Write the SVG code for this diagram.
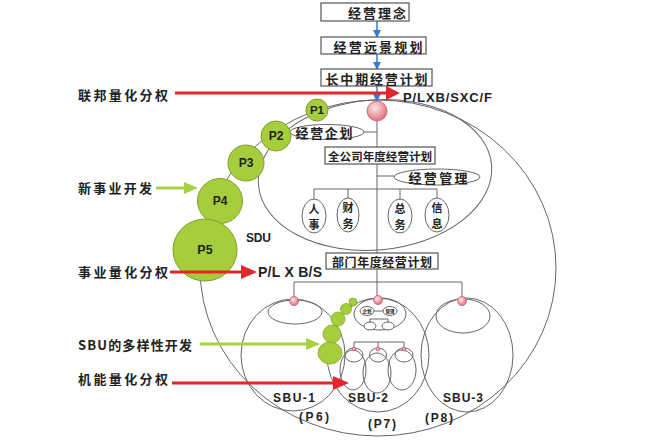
<svg xmlns="http://www.w3.org/2000/svg" width="656" height="440" viewBox="0 0 656 440">
<defs>
<radialGradient id="pink" cx="0.4" cy="0.35" r="0.65">
<stop offset="0" stop-color="#fde6ea"/>
<stop offset="1" stop-color="#e2707e"/>
</radialGradient>
<marker id="blueHead" markerWidth="8" markerHeight="8" refX="7" refY="4" orient="auto" markerUnits="userSpaceOnUse">
<path d="M0,0 L8,4 L0,8 Z" fill="#3a7cc4"/>
</marker>
</defs>
<style>
.cn{font-family:"Noto Sans CJK SC","Noto Sans",sans-serif;font-weight:bold;fill:#222}
.lat{font-family:"Liberation Sans","DejaVu Sans",sans-serif;font-weight:bold;fill:#222}
.box{fill:#fff;stroke:#555;stroke-width:1.2}
.ln{fill:none;stroke:#666;stroke-width:1}
.ov{fill:#fff;stroke:#666;stroke-width:1}
.pc{fill:#a6cd3c;stroke:#7f9f2a;stroke-width:1}
.gb{fill:#a6cd3c;stroke:#86a82e;stroke-width:0.8}
.pk{fill:url(#pink);stroke:#c85a68;stroke-width:0.8}
.red{stroke:#e2262b;stroke-width:3;fill:none}
.redh{fill:#e2262b}
.grn{stroke:#a8d040;stroke-width:3;fill:none}
.grnh{fill:#a8d040}
.blu{stroke:#3a7cc4;stroke-width:1.5;fill:none}
</style>
<rect width="656" height="440" fill="#fff"/>

<g id="frames">
<ellipse class="ln" cx="378" cy="268" rx="178" ry="168"/>
<ellipse class="ln" cx="375" cy="175" rx="117" ry="75" transform="rotate(-5 375 175)"/>
</g>

<g id="connectors">
<line class="blu" x1="377" y1="21" x2="377" y2="37" marker-end="url(#blueHead)"/>
<line class="blu" x1="377" y1="54" x2="377" y2="69" marker-end="url(#blueHead)"/>
<line class="blu" x1="377" y1="86" x2="377" y2="101" marker-end="url(#blueHead)"/>
<line class="ln" x1="377" y1="121" x2="377" y2="296"/>
<line class="ln" x1="364" y1="132" x2="377" y2="132"/>
<line class="ln" x1="377" y1="176" x2="394" y2="176"/>
<polyline class="ln" points="314,200 314,189 437,189 437,199"/>
<line class="ln" x1="348" y1="189" x2="348" y2="199"/>
<line class="ln" x1="400" y1="189" x2="400" y2="200"/>
<polyline class="ln" points="294,297 294,282 462,282 462,297"/>
<polyline class="ln" points="374,311 383,311"/>
<polyline class="ln" points="370,323 370,319 388,319 388,323"/>
<polyline class="ln" points="354,348 354,342 404,342 404,348"/>
<line class="ln" x1="378" y1="342" x2="378" y2="348"/>
</g>

<g id="box-linian">
<rect class="box" x="321" y="3" width="88" height="18"/>
<text class="cn" x="377" y="12.5" font-size="13" text-anchor="middle" dominant-baseline="central" textLength="58" lengthAdjust="spacing">经营理念</text>
</g>
<g id="box-yuanjing">
<rect class="box" x="321" y="37" width="105" height="17"/>
<text class="cn" x="378" y="46" font-size="13" text-anchor="middle" dominant-baseline="central" textLength="89" lengthAdjust="spacing">经营远景规划</text>
</g>
<g id="box-changzhongqi">
<rect class="box" x="321" y="69" width="111" height="17"/>
<text class="cn" x="376.5" y="78" font-size="13" text-anchor="middle" dominant-baseline="central" textLength="102" lengthAdjust="spacing">长中期经营计划</text>
</g>

<g id="ball-top">
<circle class="pk" cx="377" cy="111" r="10"/>
</g>

<g id="label-plxbsxcf">
<text class="lat" x="403" y="97" font-size="13" textLength="89" lengthAdjust="spacing" dominant-baseline="central">P/LXB/SXC/F</text>
</g>

<g id="qihua">
<ellipse class="ov" cx="327" cy="132" rx="37" ry="7.5"/>
<text class="cn" x="324" y="132" font-size="13" text-anchor="middle" dominant-baseline="central" textLength="57" lengthAdjust="spacing">经营企划</text>
</g>
<g id="box-quangongsi">
<rect class="box" x="325" y="147" width="110" height="17"/>
<text class="cn" x="380" y="155.5" font-size="11.5" text-anchor="middle" dominant-baseline="central" textLength="104" lengthAdjust="spacing">全公司年度经营计划</text>
</g>
<g id="guanli">
<ellipse class="ov" cx="437" cy="177" rx="43" ry="8"/>
<text class="cn" x="438" y="177" font-size="13" text-anchor="middle" dominant-baseline="central" textLength="59" lengthAdjust="spacing">经营管理</text>
</g>
<g id="renshi">
<ellipse class="ov" cx="314" cy="216" rx="12" ry="17"/>
<text class="cn" x="314" y="208" font-size="11" text-anchor="middle" dominant-baseline="central">人</text>
<text class="cn" x="314" y="224" font-size="11" text-anchor="middle" dominant-baseline="central">事</text>
</g>
<g id="caiwu">
<ellipse class="ov" cx="348" cy="215" rx="11" ry="17"/>
<text class="cn" x="348" y="207" font-size="11" text-anchor="middle" dominant-baseline="central">财</text>
<text class="cn" x="348" y="223" font-size="11" text-anchor="middle" dominant-baseline="central">务</text>
</g>
<g id="zongwu">
<ellipse class="ov" cx="400" cy="216" rx="12" ry="17"/>
<text class="cn" x="400" y="208" font-size="11" text-anchor="middle" dominant-baseline="central">总</text>
<text class="cn" x="400" y="224" font-size="11" text-anchor="middle" dominant-baseline="central">务</text>
</g>
<g id="xinxi">
<ellipse class="ov" cx="437" cy="215" rx="12" ry="17"/>
<text class="cn" x="437" y="207" font-size="11" text-anchor="middle" dominant-baseline="central">信</text>
<text class="cn" x="437" y="223" font-size="11" text-anchor="middle" dominant-baseline="central">息</text>
</g>

<g id="P1"><circle class="pc" cx="317" cy="110" r="11"/><text class="lat" x="317" y="110" font-size="11.5" text-anchor="middle" dominant-baseline="central">P1</text></g>
<g id="P2"><circle class="pc" cx="276" cy="136" r="15"/><text class="lat" x="276" y="136" font-size="12" text-anchor="middle" dominant-baseline="central">P2</text></g>
<g id="P3"><circle class="pc" cx="246" cy="163" r="18"/><text class="lat" x="246" y="163" font-size="12" text-anchor="middle" dominant-baseline="central">P3</text></g>
<g id="P4"><circle class="pc" cx="220" cy="201" r="22.5"/><text class="lat" x="220" y="201" font-size="12" text-anchor="middle" dominant-baseline="central">P4</text></g>
<g id="P5"><ellipse class="pc" cx="205" cy="250" rx="32" ry="31"/><text class="lat" x="205" y="250" font-size="12.5" text-anchor="middle" dominant-baseline="central">P5</text></g>

<g id="label-sdu"><text class="lat" x="246" y="238" font-size="12" dominant-baseline="central" textLength="25" lengthAdjust="spacing">SDU</text></g>
<g id="label-plxbs"><text class="lat" x="258" y="272" font-size="14" dominant-baseline="central" textLength="64" lengthAdjust="spacing">P/L X B/S</text></g>

<g id="left-labels">
<text class="cn" x="78" y="94" font-size="13" dominant-baseline="central" textLength="90" lengthAdjust="spacing">联邦量化分权</text>
<text class="cn" x="78" y="187" font-size="13" dominant-baseline="central" textLength="74" lengthAdjust="spacing">新事业开发</text>
<text class="cn" x="78" y="271" font-size="13" dominant-baseline="central" textLength="90" lengthAdjust="spacing">事业量化分权</text>
<text class="cn" x="78" y="344" font-size="13" dominant-baseline="central" textLength="114" lengthAdjust="spacing">SBU的多样性开发</text>
<text class="cn" x="78" y="378" font-size="13" dominant-baseline="central" textLength="90" lengthAdjust="spacing">机能量化分权</text>
</g>

<g id="box-bumen">
<rect class="box" x="326" y="253" width="112" height="16"/>
<text class="cn" x="382" y="261" font-size="12" text-anchor="middle" dominant-baseline="central" textLength="100" lengthAdjust="spacing">部门年度经营计划</text>
</g>

<g id="SBU-1">
<ellipse class="ln" cx="293" cy="355" rx="52" ry="56"/>
<ellipse class="ln" cx="295" cy="312" rx="27" ry="12"/>
<circle class="pk" cx="294" cy="301" r="4.5"/>
<text class="lat" x="273" y="398" font-size="12" dominant-baseline="central" textLength="42" lengthAdjust="spacing">SBU-1</text>
<text class="lat" x="299" y="417" font-size="12" dominant-baseline="central" textLength="30" lengthAdjust="spacing">(P6)</text>
</g>

<g id="SBU-2">
<ellipse class="ln" cx="378" cy="355" rx="51" ry="57"/>
<ellipse class="ln" cx="380" cy="314" rx="26" ry="16"/>
<circle class="pk" cx="378" cy="300" r="4.5"/>
<ellipse class="ov" cx="367" cy="311" rx="7" ry="4.5"/>
<text class="cn" x="367" y="311" font-size="4.5" text-anchor="middle" dominant-baseline="central">企划</text>
<ellipse class="ov" cx="390" cy="311" rx="7" ry="4.5"/>
<text class="cn" x="390" y="311" font-size="4.5" text-anchor="middle" dominant-baseline="central">管理</text>
<ellipse class="ov" cx="370" cy="326" rx="6" ry="4"/>
<ellipse class="ov" cx="388" cy="326" rx="6" ry="4"/>
<ellipse class="ln" cx="353" cy="370" rx="13" ry="20"/>
<ellipse class="ln" cx="377" cy="373" rx="14" ry="20"/>
<ellipse class="ln" cx="402" cy="370" rx="14" ry="20"/>
<ellipse class="ln" cx="354" cy="355" rx="9" ry="7"/>
<ellipse class="ln" cx="378" cy="355" rx="8.5" ry="7"/>
<ellipse class="ln" cx="404" cy="355" rx="9" ry="7"/>
<circle class="pk" cx="354" cy="349" r="1.8"/>
<circle class="pk" cx="378" cy="349" r="1.8"/>
<circle class="pk" cx="404" cy="349" r="1.8"/>
<text class="lat" x="348" y="398" font-size="12" dominant-baseline="central" textLength="40" lengthAdjust="spacing">SBU-2</text>
<text class="lat" x="368" y="424" font-size="12" dominant-baseline="central" textLength="28" lengthAdjust="spacing">(P7)</text>
</g>

<g id="SBU-3">
<ellipse class="ln" cx="467" cy="355" rx="46" ry="57"/>
<ellipse class="ln" cx="463" cy="316" rx="27" ry="17"/>
<circle class="pk" cx="462" cy="301" r="4.5"/>
<text class="lat" x="443" y="398" font-size="12" dominant-baseline="central" textLength="40" lengthAdjust="spacing">SBU-3</text>
<text class="lat" x="425" y="418" font-size="12" dominant-baseline="central" textLength="28" lengthAdjust="spacing">(P8)</text>
</g>

<g id="sbu-chain">
<circle class="gb" cx="353" cy="302" r="4"/>
<circle class="gb" cx="346" cy="309" r="5.5"/>
<circle class="gb" cx="338" cy="319" r="7"/>
<circle class="gb" cx="332" cy="334" r="9"/>
<ellipse class="gb" cx="330" cy="353" rx="12" ry="11"/>
</g>

<g id="arrows">
<line class="red" x1="175" y1="93" x2="388" y2="93"/>
<polygon class="redh" points="386,86 400,93 386,100"/>
<line class="red" x1="170" y1="272" x2="243" y2="272"/>
<polygon class="redh" points="241,265 257,272 241,279"/>
<line class="red" x1="172" y1="383" x2="335" y2="383"/>
<polygon class="redh" points="333,376 349,383 333,390"/>
<line class="grn" x1="156" y1="188" x2="186" y2="188"/>
<polygon class="grnh" points="184,182 198,188 184,194"/>
<line class="grn" x1="200" y1="344" x2="308" y2="344"/>
<polygon class="grnh" points="306,338 320,344 306,350"/>
</g>
</svg>
